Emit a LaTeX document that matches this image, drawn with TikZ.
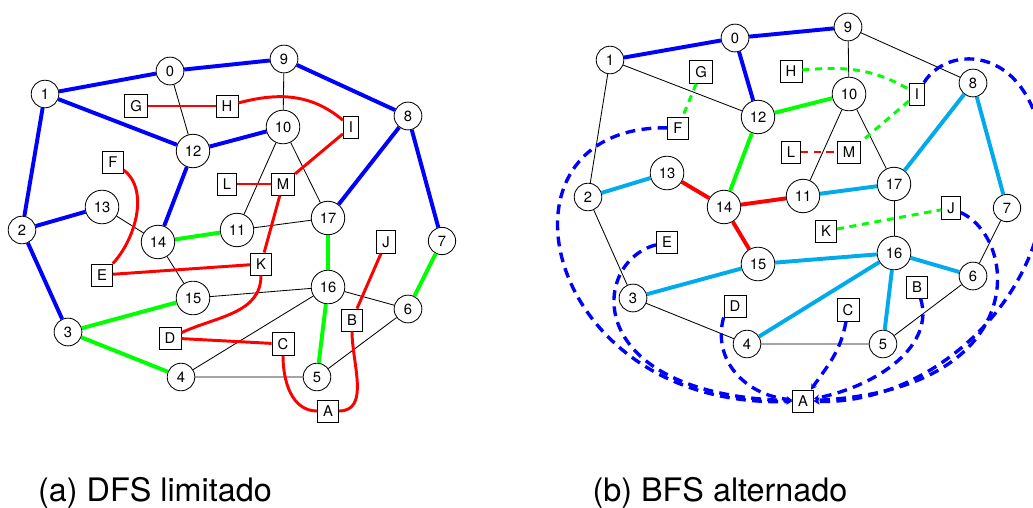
\documentclass[tikz,border=0pt]{standalone}
\usepackage{fontspec}
\setmainfont{TeX Gyre Heros}
\usetikzlibrary{arrows.meta}

\definecolor{sky}{RGB}{0,170,235}

\begin{document}
\begin{tikzpicture}[x=0.025cm, y=-0.025cm, >={Stealth[length=4pt, width=4.5pt]}, font=\fontsize{10.5}{12}\selectfont]

\tikzset{
  vtx/.style={draw, circle, fill=white, inner sep=3.6pt, line width=0.6pt},
  lbl/.style={draw, rectangle, fill=white, inner sep=4pt, line width=0.6pt},
  plain/.style={line width=0.6pt},
  tree/.style={line width=2.8pt},
  link/.style={red, line width=2.1pt},
  hop/.style={blue, line width=2.4pt, dash pattern=on 7pt off 4.5pt, ->},
  shortcut/.style={line width=2.1pt, dash pattern=on 5pt off 4pt},
  caption/.style={font=\fontsize{23}{27}\selectfont},
}

\useasboundingbox (0,0) rectangle (1033,507);

% DFS limitado
\node[vtx] (d0) at (170,71) {0};
\node[vtx] (d9) at (284,59) {9};
\node[vtx] (d1) at (45,94) {1};
\node[vtx] (d8) at (408,116) {8};
\node[vtx] (d12) at (193,151) {12};
\node[vtx] (d10) at (283,127) {10};
\node[vtx] (d2) at (22,230) {2};
\node[vtx] (d13) at (102,207) {13};
\node[vtx] (d14) at (158,242) {14};
\node[vtx] (d11) at (237,230) {11};
\node[vtx] (d17) at (328,218) {17};
\node[vtx] (d7) at (442,241) {7};
\node[vtx] (d15) at (193,298) {15};
\node[vtx] (d16) at (328,287) {16};
\node[vtx] (d6) at (408,309) {6};
\node[vtx] (d3) at (68,332) {3};
\node[vtx] (d4) at (181,377) {4};
\node[vtx] (d5) at (317,377) {5};

\node[lbl] (dG) at (136,106) {G};
\node[lbl] (dH) at (227,106) {H};
\node[lbl] (dI) at (351,127) {I};
\node[lbl] (dF) at (113,162) {F};
\node[lbl] (dL) at (227,184) {L};
\node[lbl] (dM) at (283,184) {M};
\node[lbl] (dE) at (102,275) {E};
\node[lbl] (dK) at (261,264) {K};
\node[lbl] (dJ) at (386,242) {J};
\node[lbl] (dB) at (352,320) {B};
\node[lbl] (dD) at (170,338) {D};
\node[lbl] (dC) at (283,344) {C};
\node[lbl] (dA) at (328,411) {A};

\draw[tree, blue] (d1) -- (d0) -- (d9) -- (d8) -- (d7);
\draw[tree, blue] (d1) -- (d12) -- (d10);
\draw[tree, blue] (d12) -- (d14);
\draw[tree, blue] (d8) -- (d17);
\draw[tree, blue] (d13) -- (d2) -- (d1);
\draw[tree, blue] (d2) -- (d3);
\draw[tree, green] (d14) -- (d11);
\draw[tree, green] (d17) -- (d16) -- (d5);
\draw[tree, green] (d7) -- (d6);
\draw[tree, green] (d15) -- (d3) -- (d4);

\draw[plain] (d0) -- (d12);
\draw[plain] (d9) -- (d10);
\draw[plain] (d10) -- (d11);
\draw[plain] (d10) -- (d17);
\draw[plain] (d13) -- (d14);
\draw[plain] (d11) -- (d17);
\draw[plain] (d14) -- (d15);
\draw[plain] (d15) -- (d16);
\draw[plain] (d16) -- (d6);
\draw[plain] (d16) -- (d4);
\draw[plain] (d4) -- (d5) -- (d6);

\draw[link] (dG) -- (dH);
\draw[link] (dH) to[out=15, in=140] (dI);
\draw[link] (dI) -- (dM);
\draw[link] (dL) -- (dM);
\draw[link] (dM) -- (dK);
\draw[link] (dF) .. controls (150,190) and (135,240) .. (dE);
\draw[link] (dE) -- (dK);
\draw[link] (dK) to[out=-90, in=25] (dD);
\draw[link] (dD) -- (dC);
\draw[link] (dC) to[out=-90, in=180] (dA);
\draw[link] (dA) to[out=0, in=-90] (dB);
\draw[link] (dB) -- (dJ);

% BFS alternado
\node[vtx] (b0) at (735,38) {0};
\node[vtx] (b9) at (848,27) {9};
\node[vtx] (b1) at (610,60) {1};
\node[vtx] (b8) at (973,83) {8};
\node[vtx] (b12) at (758,117) {12};
\node[vtx] (b10) at (849,94) {10};
\node[vtx] (b13) at (667,173) {13};
\node[vtx] (b2) at (588,197) {2};
\node[vtx] (b14) at (724,207) {14};
\node[vtx] (b11) at (803,196) {11};
\node[vtx] (b17) at (894,184) {17};
\node[vtx] (b7) at (1007,208) {7};
\node[vtx] (b15) at (758,264) {15};
\node[vtx] (b16) at (894,253) {16};
\node[vtx] (b6) at (973,276) {6};
\node[vtx] (b3) at (633,298) {3};
\node[vtx] (b4) at (747,344) {4};
\node[vtx] (b5) at (883,344) {5};

\node[lbl] (bG) at (701,72) {G};
\node[lbl] (bH) at (791,71) {H};
\node[lbl] (bI) at (917,94) {I};
\node[lbl] (bF) at (678,128) {F};
\node[lbl] (bL) at (791,152) {L};
\node[lbl] (bM) at (849,152) {M};
\node[lbl] (bE) at (667,242) {E};
\node[lbl] (bK) at (826,231) {K};
\node[lbl] (bJ) at (951,208) {J};
\node[lbl] (bB) at (917,287) {B};
\node[lbl] (bD) at (735,306) {D};
\node[lbl] (bC) at (848,310) {C};
\node[lbl] (bA) at (803,401) {A};

\draw[tree, blue] (b1) -- (b0) -- (b9);
\draw[tree, blue] (b0) -- (b12);
\draw[tree, green] (b12) -- (b10);
\draw[tree, green] (b12) -- (b14);
\draw[tree, red] (b13) -- (b14) -- (b15);
\draw[tree, red] (b14) -- (b11);
\draw[tree, sky] (b2) -- (b13);
\draw[tree, sky] (b11) -- (b17) -- (b8) -- (b7);
\draw[tree, sky] (b3) -- (b15) -- (b16);
\draw[tree, sky] (b16) -- (b4);
\draw[tree, sky] (b16) -- (b5);
\draw[tree, sky] (b16) -- (b6);

\draw[plain] (b1) -- (b12);
\draw[plain] (b1) -- (b2) -- (b3) -- (b4) -- (b5) -- (b6) -- (b7);
\draw[plain] (b9) -- (b10);
\draw[plain] (b9) -- (b8);
\draw[plain] (b10) -- (b11);
\draw[plain] (b10) -- (b17);
\draw[plain] (b17) -- (b16);

\draw[shortcut, green] (bG) -- (bF);
\draw[shortcut, green] (bH) to[out=5, in=150] (bI);
\draw[shortcut, green] (bI) -- (bM);
\draw[shortcut, green] (bK) -- (bJ);
\draw[shortcut, red] (bL) -- (bM);

\draw[hop] (bF) .. controls (480,125) and (540,410) .. (bA);
\draw[hop] (bE) .. controls (590,262) and (580,395) .. (bA);
\draw[hop] (bD.south west) .. controls (712,360) and (745,395) .. (bA);
\draw[hop] (bC) to[out=-100, in=55] (bA);
\draw[hop] (bB) .. controls (935,345) and (880,385) .. (bA);
\draw[hop] (bJ) .. controls (1020,240) and (1030,390) .. (bA);
\draw[hop] (bI) .. controls (950,40) and (1045,45) .. (1045,180) .. controls (1045,300) and (930,405) .. (bA);

\node[caption] (capa) at (155,493) {(a) DFS limitado};
\node[caption] (capb) at (720,493) {(b) BFS alternado};

\end{tikzpicture}
\end{document}
